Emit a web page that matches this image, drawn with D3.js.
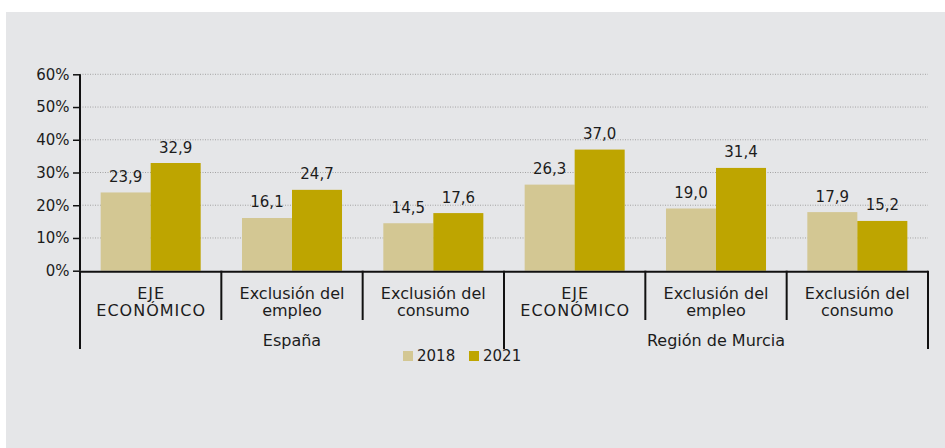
<!DOCTYPE html>
<html><head><meta charset="utf-8">
<script src="https://cdn.jsdelivr.net/npm/d3@7"></script>
<style>
html,body{margin:0;padding:0;background:#fff;}
svg{display:block;font-family:"DejaVu Sans",sans-serif;}
</style></head>
<body><svg id="chart" width="945" height="448"></svg>
<script>
const regions = ["España", "Región de Murcia"];
const categories = [["EJE","ECONÓMICO"],["Exclusión del","empleo"],["Exclusión del","consumo"]];
const series = ["2018", "2021"];
const values2018 = [23.9, 16.1, 14.5, 26.3, 19.0, 17.9];
const values2021 = [32.9, 24.7, 17.6, 37.0, 31.4, 15.2];
const yTicks = [0, 10, 20, 30, 40, 50, 60];
const colors = {"2018": "#d3c793", "2021": "#bea500"};

(function(){
const svg = d3.select("#chart");
const txt = "#1c1c1c";
svg.append("rect").attr("x",6).attr("y",12).attr("width",939).attr("height",436).attr("fill","#e5e6e8");

const mLeft = 80, mRight = 928, mTop = 74.3, mBottom = 270.7;
const keys = [];
regions.forEach((r,ri)=>categories.forEach((c,ci)=>keys.push(ri*3+ci)));

const x0 = d3.scaleBand().domain(keys).range([mLeft,mRight]).padding(0);
const x1 = d3.scaleBand().domain(series).range([0,x0.bandwidth()]).paddingInner(0).paddingOuter(0.413);
const y = d3.scaleLinear().domain([0,60]).range([mBottom,mTop]);

// grid
svg.append("g").selectAll("line").data(yTicks.filter(d=>d>0)).join("line")
  .attr("x1",mLeft).attr("x2",mRight).attr("y1",d=>y(d)).attr("y2",d=>y(d))
  .attr("stroke","#a3a3a3").attr("stroke-width",1).attr("stroke-dasharray","1,1.5");

// bars
const data = keys.map(k=>({k, vals:[{s:"2018",v:values2018[k]},{s:"2021",v:values2021[k]}]}));
const g = svg.append("g").selectAll("g").data(data).join("g").attr("transform",d=>`translate(${x0(d.k)},0)`);
g.selectAll("rect").data(d=>d.vals).join("rect")
  .attr("x",d=>x1(d.s)).attr("width",x1.bandwidth())
  .attr("y",d=>y(d.v)).attr("height",d=>mBottom-y(d.v))
  .attr("fill",d=>colors[d.s]);
g.selectAll("text").data(d=>d.vals).join("text")
  .attr("x",d=>x1(d.s)+x1.bandwidth()/2).attr("y",d=>y(d.v)-10.5)
  .attr("text-anchor","middle").attr("font-size",15).attr("fill",txt)
  .text(d=>d3.format(".1f")(d.v).replace(".",","));

// y axis
const yAxis = d3.axisLeft(y).tickValues(yTicks).tickSize(7).tickPadding(3.5).tickFormat(d=>d+"%");
const ya = svg.append("g").attr("transform",`translate(${mLeft},0)`).call(yAxis);
ya.select(".domain").attr("stroke","#111").attr("stroke-width",2).attr("d",`M0,${mTop}V${mBottom}`);
ya.selectAll(".tick line").attr("stroke","#111").attr("stroke-width",1.5);
ya.selectAll(".tick text").attr("font-size",15).attr("fill",txt).attr("font-family","DejaVu Sans,sans-serif");

// x axis line
svg.append("line").attr("x1",mLeft).attr("x2",mRight).attr("y1",mBottom+1).attr("y2",mBottom+1).attr("stroke","#111").attr("stroke-width",2);

// category separators
const sep = svg.append("g").attr("stroke","#111").attr("stroke-width",2);
keys.forEach(k=>{
  const xs = x0(k);
  const isLong = (k%3===0);
  sep.append("line").attr("x1",xs).attr("x2",xs).attr("y1",mBottom).attr("y2",isLong?349:320);
});
sep.append("line").attr("x1",mRight).attr("x2",mRight).attr("y1",mBottom).attr("y2",349);

// category labels
keys.forEach(k=>{
  const c = categories[k%3];
  const cx = x0(k)+x0.bandwidth()/2;
  const upper = (k%3===0);
  const t = svg.append("text").attr("text-anchor","middle").attr("font-size",16).attr("fill",txt)
    .attr("letter-spacing", upper ? "1px" : "0px");
  t.append("tspan").attr("x",cx + (upper?0.5:0)).attr("y",299).text(c[0]);
  t.append("tspan").attr("x",cx + (upper?0.5:0)).attr("y",316).text(c[1]);
});
// region labels
regions.forEach((r,ri)=>{
  const a = x0(ri*3), b = x0(ri*3+2)+x0.bandwidth();
  svg.append("text").attr("x",(a+b)/2).attr("y",346).attr("text-anchor","middle")
    .attr("font-size",16).attr("fill",txt).text(r);
});

// legend
const lg = svg.append("g");
const lx = [403, 469];
series.forEach((s,i)=>{
  lg.append("rect").attr("x",lx[i]).attr("y",351).attr("width",10).attr("height",10).attr("fill",colors[s]);
  lg.append("text").attr("x",lx[i]+14).attr("y",361).attr("font-size",15).attr("fill",txt).text(s);
});
})();
</script></body></html>
